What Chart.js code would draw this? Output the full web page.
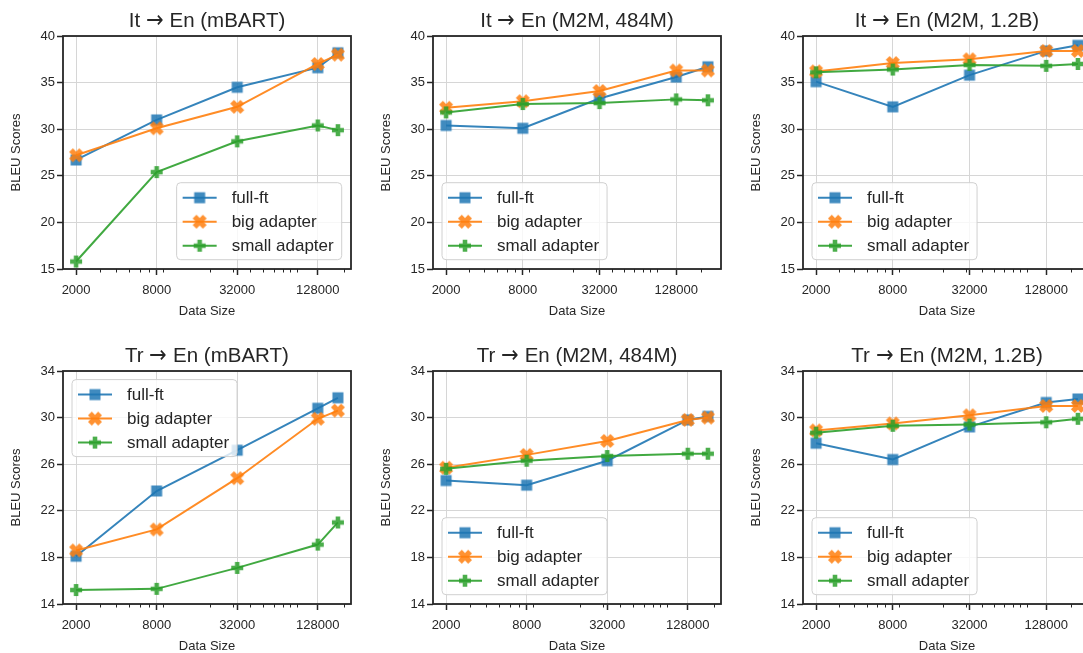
<!DOCTYPE html>
<html>
<head>
<meta charset="utf-8">
<script src="https://cdn.jsdelivr.net/npm/chart.js@4.4.1/dist/chart.umd.min.js"></script>
<style>
  @font-face { font-family: 'ArrowFace'; src: local('DejaVu Sans'); unicode-range: U+2192; }
  html, body { margin: 0; padding: 0; background: #fff; overflow: hidden; width: 1083px; height: 653px; }
  canvas { position: absolute; }
</style>
</head>
<body>
<script>
// data
const seriesNames = ['full-ft', 'big adapter', 'small adapter'];
const xTicks = [2000, 8000, 32000, 128000];
const xShort = [2000, 8000, 32000, 128000, 181000];
const xLong = [2000, 8000, 32000, 128000, 227000];

const itMbartFull = [26.7, 31.0, 34.5, 36.6, 38.2];
const itMbartBig = [27.2, 30.1, 32.4, 37.0, 38.0];
const itMbartSmall = [15.8, 25.4, 28.7, 30.4, 29.9];

const it484Full = [30.4, 30.1, 33.3, 35.6, 36.7];
const it484Big = [32.3, 33.0, 34.1, 36.3, 36.3];
const it484Small = [31.8, 32.7, 32.8, 33.2, 33.1];

const it12Full = [35.1, 32.4, 35.8, 38.4, 39.0];
const it12Big = [36.2, 37.1, 37.5, 38.4, 38.4];
const it12Small = [36.1, 36.4, 36.9, 36.8, 37.0];

const trMbartFull = [18.1, 23.7, 27.2, 30.8, 31.7];
const trMbartBig = [18.6, 20.4, 24.8, 29.9, 30.6];
const trMbartSmall = [15.2, 15.3, 17.1, 19.1, 21.0];

const tr484Full = [24.6, 24.2, 26.3, 29.8, 30.1];
const tr484Big = [25.7, 26.8, 28.0, 29.8, 30.0];
const tr484Small = [25.6, 26.3, 26.7, 26.9, 26.9];

const tr12Full = [27.8, 26.4, 29.2, 31.3, 31.6];
const tr12Big = [28.9, 29.5, 30.2, 31.0, 31.0];
const tr12Small = [28.7, 29.3, 29.4, 29.6, 29.9];

const itTicks = [15, 40, 5];
const trTicks = [14, 34, 4];

const panels = [
  {title: 'It \u2192 En (mBART)', xs: xShort, ys: [itMbartFull, itMbartBig, itMbartSmall], y: itTicks, legend: 'lr'},
  {title: 'It \u2192 En (M2M, 484M)', xs: xLong, ys: [it484Full, it484Big, it484Small], y: itTicks, legend: 'll'},
  {title: 'It \u2192 En (M2M, 1.2B)', xs: xLong, ys: [it12Full, it12Big, it12Small], y: itTicks, legend: 'll'},
  {title: 'Tr \u2192 En (mBART)', xs: xShort, ys: [trMbartFull, trMbartBig, trMbartSmall], y: trTicks, legend: 'ul'},
  {title: 'Tr \u2192 En (M2M, 484M)', xs: xShort, ys: [tr484Full, tr484Big, tr484Small], y: trTicks, legend: 'll'},
  {title: 'Tr \u2192 En (M2M, 1.2B)', xs: xLong, ys: [tr12Full, tr12Big, tr12Small], y: trTicks, legend: 'll'},
];

const colors = [[31, 119, 180], [255, 127, 14], [44, 160, 44]];
const shapes = ['square', 'x', 'plus'];
const FONT = '"Liberation Sans", Arial, sans-serif';
const TITLE_FONT = 'ArrowFace, "Liberation Sans", Arial, sans-serif';
const ink = '#262626';
const gridColor = '#d6d6d6';

function rgba(c, a) { return `rgba(${c[0]},${c[1]},${c[2]},${a})`; }

// matplotlib-like filled markers as small canvases
function makeMarker(shape, c) {
  const cv = document.createElement('canvas');
  cv.width = 18; cv.height = 18;
  const g = cv.getContext('2d');
  g.fillStyle = rgba(c, 0.85);
  g.translate(9, 9);
  if (shape === 'square') {
    g.fillRect(-5.5, -5.5, 11, 11);
  } else {
    const r = shape === 'x' ? 7.2 : 6.0;
    const t = r * 0.38;
    if (shape === 'x') g.rotate(Math.PI / 4);
    g.beginPath();
    g.moveTo(-t, -r); g.lineTo(t, -r); g.lineTo(t, -t); g.lineTo(r, -t);
    g.lineTo(r, t); g.lineTo(t, t); g.lineTo(t, r); g.lineTo(-t, r);
    g.lineTo(-t, t); g.lineTo(-r, t); g.lineTo(-r, -t); g.lineTo(-t, -t);
    g.closePath();
    g.fill();
  }
  return cv;
}
const markers = shapes.map((s, i) => makeMarker(s, colors[i]));

const framePlugin = {
  id: 'frame',
  afterDatasetsDraw(chart) {
    const {ctx, chartArea: a, scales} = chart;
    const sx = scales.x;
    ctx.save();
    ctx.strokeStyle = ink;
    ctx.lineWidth = 1;
    for (let e = 3; e <= 5; e++) {
      for (let s = 2; s <= 9; s++) {
        const v = s * Math.pow(10, e);
        if (v < sx.min || v > sx.max || xTicks.includes(v)) continue;
        const px = Math.round(sx.getPixelForValue(v)) + 0.5;
        ctx.beginPath();
        ctx.moveTo(px, a.bottom);
        ctx.lineTo(px, a.bottom + 3.5);
        ctx.stroke();
      }
    }
    ctx.lineWidth = 1.8;
    ctx.strokeRect(a.left, a.top, a.right - a.left, a.bottom - a.top);
    ctx.restore();
  }
};

function legendPlugin(pos) {
  return {
    id: 'insideLegend',
    afterDraw(chart) {
      const {ctx, chartArea: a} = chart;
      ctx.save();
      ctx.font = '17px ' + FONT;
      const tw = Math.max(...seriesNames.map(n => ctx.measureText(n).width));
      const w = 55 + tw + 8, h = 77;
      const x = pos === 'lr' ? a.right - 9.3 - w : a.left + 9;
      const y = pos === 'ul' ? a.top + 8.6 : a.bottom - 9.3 - h;
      ctx.beginPath();
      ctx.roundRect(x, y, w, h, 4);
      ctx.fillStyle = 'rgba(255,255,255,0.8)';
      ctx.fill();
      ctx.strokeStyle = '#d0d0d0';
      ctx.lineWidth = 1;
      ctx.stroke();
      seriesNames.forEach((name, i) => {
        const cy = y + 15 + i * 24;
        ctx.strokeStyle = rgba(colors[i], 0.9);
        ctx.lineWidth = 2;
        ctx.beginPath();
        ctx.moveTo(x + 6, cy);
        ctx.lineTo(x + 40, cy);
        ctx.stroke();
        ctx.drawImage(markers[i], x + 23 - 9, cy - 9);
        ctx.fillStyle = ink;
        ctx.textBaseline = 'middle';
        ctx.fillText(name, x + 55, cy + 1);
      });
      ctx.restore();
    }
  };
}

const colLeft = [1, 371, 741];
const rowTop = [0, 335];

function drawAll() {
  panels.forEach((p, idx) => {
    const cv = document.createElement('canvas');
    // symmetric around the plot area so the title centres over it
    cv.width = 62 + 288 + 62; cv.height = 319;
    cv.style.left = colLeft[idx % 3] + 'px';
    cv.style.top = rowTop[Math.floor(idx / 3)] + 'px';
    document.body.appendChild(cv);

    const lo = Math.log10(p.xs[0]), hi = Math.log10(p.xs[p.xs.length - 1]);
    const m = 0.05 * (hi - lo);

    new Chart(cv.getContext('2d'), {
      type: 'line',
      data: {
        datasets: p.ys.map((ys, i) => ({
          label: seriesNames[i],
          data: p.xs.map((x, j) => ({x: x, y: ys[j]})),
          borderColor: rgba(colors[i], 0.9),
          borderWidth: 2,
          pointStyle: markers[i],
          pointRadius: 6,
          pointHoverRadius: 6,
          tension: 0,
          order: 3 - i,
        }))
      },
      options: {
        responsive: false,
        animation: false,
        events: [],
        layout: {padding: 0},
        plugins: {
          legend: {display: false},
          tooltip: {enabled: false},
          title: {
            display: true,
            text: p.title,
            color: ink,
            font: {family: TITLE_FONT, size: 20.5, weight: 'normal'},
            padding: {top: 8.6, bottom: 2.8}
          }
        },
        scales: {
          x: {
            type: 'logarithmic',
            bounds: 'data',
            min: Math.pow(10, lo - m),
            max: Math.pow(10, hi + m),
            afterBuildTicks: s => { s.ticks = xTicks.map(v => ({value: v})); },
            afterFit: s => { s.height = 50; },
            ticks: {
              callback: v => String(v),
              autoSkip: false,
              maxRotation: 0,
              padding: 8,
              color: ink,
              font: {family: FONT, size: 13}
            },
            grid: {color: gridColor, lineWidth: 1, tickColor: ink, tickLength: 6, tickWidth: 1.5},
            border: {display: false},
            title: {
              display: true,
              text: 'Data Size',
              color: ink,
              font: {family: FONT, size: 13},
              padding: {top: 0, bottom: 0}
            }
          },
          y: {
            min: p.y[0],
            max: p.y[1],
            afterFit: s => { s.width = 62; },
            ticks: {
              stepSize: p.y[2],
              padding: 2,
              color: ink,
              font: {family: FONT, size: 13}
            },
            grid: {color: gridColor, lineWidth: 1, tickColor: ink, tickLength: 6, tickWidth: 1.5},
            border: {display: false},
            title: {
              display: true,
              text: 'BLEU Scores',
              color: ink,
              font: {family: FONT, size: 13},
              padding: {top: 8, bottom: 0}
            }
          },
          // empty right-hand spacer so the plot area sits centred under the title
          spacer: {
            position: 'right',
            min: p.y[0],
            max: p.y[1],
            afterFit: s => { s.width = 62; },
            ticks: {display: false},
            grid: {display: false, drawTicks: false},
            border: {display: false}
          }
        }
      },
      plugins: [framePlugin, legendPlugin(p.legend)]
    });
  });
}

let started = false;
function start() { if (!started) { started = true; drawAll(); } }
if (document.fonts && document.fonts.load) {
  document.fonts.load('20px ArrowFace', '\u2192').then(start, start);
  setTimeout(start, 500);
} else {
  start();
}
</script>
</body>
</html>
